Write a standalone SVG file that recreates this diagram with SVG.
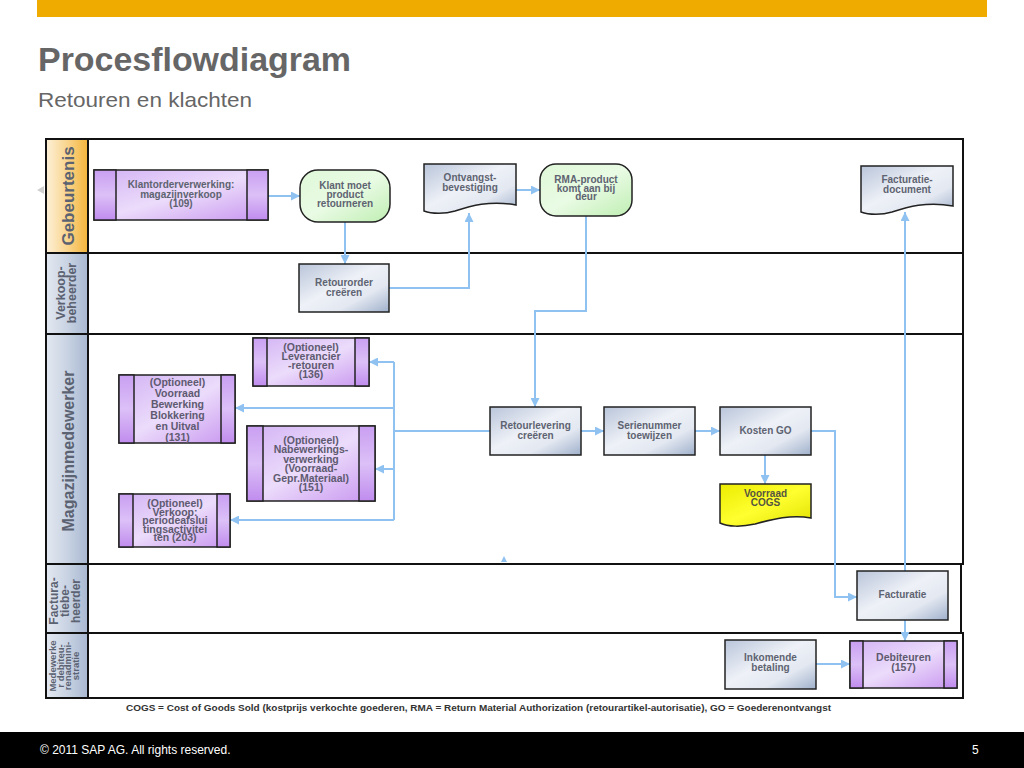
<svg xmlns="http://www.w3.org/2000/svg" width="1024" height="768" viewBox="0 0 1024 768">
<defs>
<style>
.f{font-family:"Liberation Sans",Arial,Helvetica,sans-serif}
.nt{font-family:"Liberation Sans",Arial,Helvetica,sans-serif;font-weight:bold;font-size:10px;fill:#5e6371;text-anchor:middle}
.pt{font-family:"Liberation Sans",Arial,Helvetica,sans-serif;font-weight:bold;font-size:10.5px;fill:#5e5a70;text-anchor:middle}
.lt{font-family:"Liberation Sans",Arial,Helvetica,sans-serif;font-weight:bold;fill:#5b6272;text-anchor:middle}
.lane{fill:#fff;stroke:#111;stroke-width:2}
.lab{stroke:#111;stroke-width:2}
.box{fill:url(#gBlue);stroke:#222;stroke-width:1.5}
.pbox{fill:url(#gPurple);stroke:#222;stroke-width:1.5}
.bar{fill:url(#gBar);stroke:#222;stroke-width:1.5}
.grn{fill:url(#gGreen);stroke:#222;stroke-width:1.5}
.doc{fill:url(#gBlue);stroke:#222;stroke-width:1.5}
.ydoc{fill:url(#gYellow);stroke:#222;stroke-width:1.5}
.c{fill:none;stroke:#8fc2f0;stroke-width:2}
.ca{fill:none;stroke:#8fc2f0;stroke-width:2;marker-end:url(#arr)}
</style>
<linearGradient id="gBlue" x1="0" y1="0" x2="1" y2="1">
<stop offset="0" stop-color="#b9c5da"/><stop offset="0.45" stop-color="#eef1f7"/><stop offset="0.7" stop-color="#e3e8f1"/><stop offset="1" stop-color="#9fb0cb"/>
</linearGradient>
<linearGradient id="gPurple" x1="0" y1="0" x2="1" y2="1">
<stop offset="0" stop-color="#d2b2f4"/><stop offset="0.5" stop-color="#ecdcfb"/><stop offset="1" stop-color="#c795ef"/>
</linearGradient>
<linearGradient id="gBar" x1="0" y1="0" x2="0" y2="1">
<stop offset="0" stop-color="#c99ff2"/><stop offset="0.5" stop-color="#dcc0f7"/><stop offset="1" stop-color="#c08cee"/>
</linearGradient>
<linearGradient id="gGreen" x1="0" y1="0" x2="1" y2="1">
<stop offset="0" stop-color="#dff8d8"/><stop offset="0.5" stop-color="#e9fbe4"/><stop offset="1" stop-color="#bfeeb2"/>
</linearGradient>
<linearGradient id="gYellow" x1="0" y1="0" x2="1" y2="1">
<stop offset="0" stop-color="#ecec00"/><stop offset="0.5" stop-color="#ffff30"/><stop offset="1" stop-color="#e0e000"/>
</linearGradient>
<linearGradient id="gOrange" x1="0" y1="0" x2="1" y2="0">
<stop offset="0" stop-color="#fdf0d8"/><stop offset="0.5" stop-color="#f9d58e"/><stop offset="1" stop-color="#f3b43a"/>
</linearGradient>
<linearGradient id="gLane" x1="0" y1="0" x2="1" y2="0">
<stop offset="0" stop-color="#e4e9f1"/><stop offset="0.5" stop-color="#c9d3e3"/><stop offset="1" stop-color="#a8b8d1"/>
</linearGradient>
<marker id="arr" markerUnits="userSpaceOnUse" markerWidth="9" markerHeight="9" refX="9" refY="4.5" orient="auto">
<path d="M0,0 L9,4.5 L0,9 z" fill="#8fc2f0"/>
</marker>
</defs>
<rect width="1024" height="768" fill="#fff"/>
<rect x="37" y="0" width="950" height="17" fill="#f0ab00"/>
<text class="f" x="38" y="71" font-size="33" font-weight="bold" fill="#666" textLength="313" lengthAdjust="spacingAndGlyphs">Procesflowdiagram</text>
<text class="f" x="38" y="107" font-size="21" fill="#666" textLength="214" lengthAdjust="spacingAndGlyphs">Retouren en klachten</text>

<g id="lanes">
<rect class="lane" x="46" y="139" width="917" height="114"/>
<rect class="lab" x="46" y="139" width="42" height="114" fill="url(#gOrange)"/>
<text class="lt" font-size="17" transform="translate(74,196) rotate(-90)">Gebeurtenis</text>
<rect class="lane" x="46" y="253" width="917" height="81"/>
<rect class="lab" x="46" y="253" width="42" height="81" fill="url(#gLane)"/>
<text class="lt" font-size="12.5" transform="translate(65,293) rotate(-90)"><tspan x="0" y="0">Verkoop-</tspan><tspan x="0" y="11">beheerder</tspan></text>
<rect class="lane" x="46" y="334" width="917" height="230"/>
<rect class="lab" x="46" y="334" width="42" height="230" fill="url(#gLane)"/>
<text class="lt" font-size="16" transform="translate(74,451) rotate(-90)">Magazijnmedewerker</text>
<rect class="lane" x="46" y="564" width="915" height="69"/>
<rect class="lab" x="46" y="564" width="42" height="69" fill="url(#gLane)"/>
<text class="lt" font-size="12" transform="translate(58,601) rotate(-90)"><tspan x="0" y="0">Factura-</tspan><tspan x="0" y="11">tiebe-</tspan><tspan x="0" y="22">heerder</tspan></text>
<rect class="lane" x="46" y="633" width="917" height="65"/>
<rect class="lab" x="46" y="633" width="42" height="65" fill="url(#gLane)"/>
<text class="lt" font-size="9.5" transform="translate(56,666) rotate(-90)"><tspan x="0" y="0">Medewerke</tspan><tspan x="0" y="7.7">r debiteu-</tspan><tspan x="0" y="15.4">renadmini-</tspan><tspan x="0" y="23.1">stratie</tspan></text>
</g>

<path d="M44,186 L44,194 L37,190 z" fill="#cfcfcf"/>
<path d="M501,562 L507,562 L504,556 z" fill="#8fc2f0"/>

<g id="connectors">
<path class="ca" d="M268,196 H300"/>
<path class="ca" d="M345,222 V264"/>
<path class="ca" d="M389,288 H469 V213"/>
<path class="ca" d="M516,190 H540"/>
<path class="ca" d="M586,216 V311 H535 V407"/>
<path class="ca" d="M581,431 H604"/>
<path class="ca" d="M695,431 H720"/>
<path class="ca" d="M765,455 V484"/>
<path class="ca" d="M811,431 H835 V597 H857"/>
<path class="ca" d="M905,571 V212"/>
<path class="ca" d="M905,620 V641"/>
<path class="ca" d="M816,664 H850"/>
<path class="c" d="M490,431 H394"/>
<path class="c" d="M394,362 V520"/>
<path class="ca" d="M394,362 H369"/>
<path class="ca" d="M394,408 H235"/>
<path class="ca" d="M394,469 H375"/>
<path class="ca" d="M394,520 H230"/>
</g>

<g id="n-klantorder">
<rect class="pbox" x="94" y="170" width="174" height="50"/>
<rect class="bar" x="94" y="170" width="22" height="50"/>
<rect class="bar" x="247" y="170" width="21" height="50"/>
<text class="nt"><tspan x="181" y="188">Klantorderverwerking:</tspan><tspan x="181" y="197.5">magazijnverkoop</tspan><tspan x="181" y="207">(109)</tspan></text>
</g>
<g id="n-klantmoet">
<rect class="grn" x="300" y="170" width="90" height="52" rx="18"/>
<text class="nt"><tspan x="345" y="189">Klant moet</tspan><tspan x="345" y="198">product</tspan><tspan x="345" y="207">retourneren</tspan></text>
</g>
<g id="n-retourorder">
<rect class="box" x="299" y="264" width="90" height="48"/>
<text class="nt"><tspan x="344" y="286">Retourorder</tspan><tspan x="344" y="296">creëren</tspan></text>
</g>
<g id="n-ontvangst">
<path class="doc" d="M424,164 H516 V205 C490,200 470,206 455,211 C445,214 432,214 424,211 Z"/>
<text class="nt"><tspan x="470" y="181">Ontvangst-</tspan><tspan x="470" y="191">bevestiging</tspan></text>
</g>
<g id="n-rma">
<rect class="grn" x="540" y="164" width="92" height="52" rx="16"/>
<text class="nt"><tspan x="586" y="183">RMA-product</tspan><tspan x="586" y="191.5">komt aan bij</tspan><tspan x="586" y="200">deur</tspan></text>
</g>
<g id="n-factdoc">
<path class="doc" d="M861,166 H953 V206 C927,201 907,207 892,212 C882,215 869,215 861,212 Z"/>
<text class="nt"><tspan x="907" y="183">Facturatie-</tspan><tspan x="907" y="193">document</tspan></text>
</g>
<g id="n-lev136">
<rect class="pbox" x="253" y="338" width="116" height="48"/>
<rect class="bar" x="253" y="338" width="14" height="48"/>
<rect class="bar" x="355" y="338" width="14" height="48"/>
<text class="pt" font-size="10"><tspan x="311" y="351">(Optioneel)</tspan><tspan x="311" y="360">Leverancier</tspan><tspan x="311" y="369">-retouren</tspan><tspan x="311" y="378">(136)</tspan></text>
</g>
<g id="n-voorraad131">
<rect class="pbox" x="119" y="375" width="116" height="68"/>
<rect class="bar" x="119" y="375" width="15" height="68"/>
<rect class="bar" x="221" y="375" width="14" height="68"/>
<text class="pt" font-size="12"><tspan x="177.5" y="386">(Optioneel)</tspan><tspan x="177.5" y="397">Voorraad</tspan><tspan x="177.5" y="408">Bewerking</tspan><tspan x="177.5" y="419">Blokkering</tspan><tspan x="177.5" y="430">en Uitval</tspan><tspan x="177.5" y="441">(131)</tspan></text>
</g>
<g id="n-nabew151">
<rect class="pbox" x="247" y="426" width="128" height="75"/>
<rect class="bar" x="247" y="426" width="16" height="75"/>
<rect class="bar" x="359" y="426" width="16" height="75"/>
<text class="pt" font-size="10.5"><tspan x="311" y="444">(Optioneel)</tspan><tspan x="311" y="453.4">Nabewerkings-</tspan><tspan x="311" y="462.8">verwerking</tspan><tspan x="311" y="472.2">(Voorraad-</tspan><tspan x="311" y="481.6">Gepr.Materiaal)</tspan><tspan x="311" y="491">(151)</tspan></text>
</g>
<g id="n-verkoop203">
<rect class="pbox" x="119" y="494" width="111" height="53"/>
<rect class="bar" x="119" y="494" width="14" height="53"/>
<rect class="bar" x="217" y="494" width="13" height="53"/>
<text class="pt" font-size="9.5"><tspan x="175" y="507">(Optioneel)</tspan><tspan x="175" y="515.5">Verkoop:</tspan><tspan x="175" y="524">periodeafslui</tspan><tspan x="175" y="532.5">tingsactivitei</tspan><tspan x="175" y="541">ten (203)</tspan></text>
</g>
<g id="n-retourlev">
<rect class="box" x="490" y="407" width="91" height="48"/>
<text class="nt"><tspan x="535.5" y="429">Retourlevering</tspan><tspan x="535.5" y="438.5">creëren</tspan></text>
</g>
<g id="n-serie">
<rect class="box" x="604" y="407" width="91" height="48"/>
<text class="nt"><tspan x="649.5" y="429">Serienummer</tspan><tspan x="649.5" y="438.5">toewijzen</tspan></text>
</g>
<g id="n-kosten">
<rect class="box" x="720" y="407" width="91" height="48"/>
<text class="nt" x="765.5" y="434">Kosten GO</text>
</g>
<g id="n-cogs">
<path class="ydoc" d="M720,484 H811 V518 C790,514 770,520 755,524 C742,527 728,527 720,523 Z"/>
<text class="nt" style="fill:#555540"><tspan x="765.5" y="497">Voorraad</tspan><tspan x="765.5" y="506">COGS</tspan></text>
</g>
<g id="n-facturatie">
<rect class="box" x="857" y="571" width="91" height="49"/>
<text class="nt" x="902.5" y="598">Facturatie</text>
</g>
<g id="n-inkomend">
<rect class="box" x="725" y="640" width="91" height="49"/>
<text class="nt"><tspan x="770.5" y="661">Inkomende</tspan><tspan x="770.5" y="671">betaling</tspan></text>
</g>
<g id="n-debiteuren">
<rect class="pbox" x="850" y="641" width="107" height="47"/>
<rect class="bar" x="850" y="641" width="13" height="47"/>
<rect class="bar" x="944" y="641" width="13" height="47"/>
<text class="pt" font-size="10"><tspan x="903.5" y="661">Debiteuren</tspan><tspan x="903.5" y="671">(157)</tspan></text>
</g>

<text class="f" x="126" y="711" font-size="9" font-weight="bold" fill="#333" textLength="705" lengthAdjust="spacingAndGlyphs">COGS = Cost of Goods Sold (kostprijs verkochte goederen, RMA = Return Material Authorization (retourartikel-autorisatie), GO = Goederenontvangst</text>

<rect x="0" y="732" width="1024" height="36" fill="#000"/>
<text class="f" x="40" y="754" font-size="12" fill="#fff">©  2011 SAP AG. All rights reserved.</text>
<text class="f" x="972" y="754" font-size="12" fill="#fff">5</text>
</svg>
